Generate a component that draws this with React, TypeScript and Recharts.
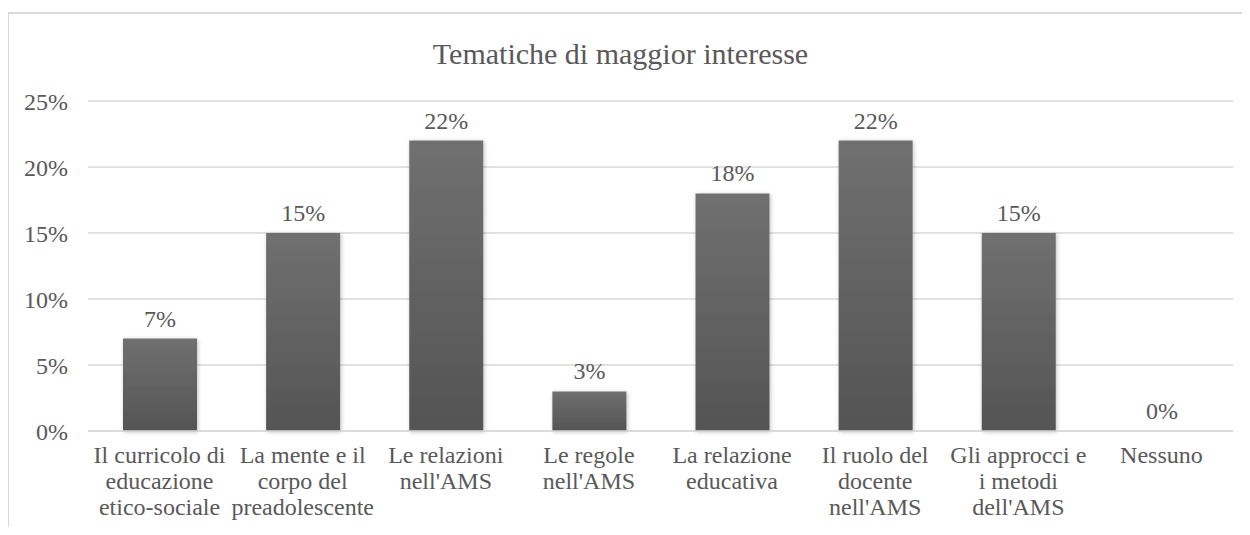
import { BarChart, Bar, XAxis, YAxis, CartesianGrid, LabelList } from "recharts";

const categories = [
  "Il curricolo di\neducazione\netico-sociale",
  "La mente e il\ncorpo del\npreadolescente",
  "Le relazioni\nnell'AMS",
  "Le regole\nnell'AMS",
  "La relazione\neducativa",
  "Il ruolo del\ndocente\nnell'AMS",
  "Gli approcci e\ni metodi\ndell'AMS",
  "Nessuno",
];
const percentages = [7, 15, 22, 3, 18, 22, 15, 0];
const yTicks = [0, 5, 10, 15, 20, 25];
const title = "Tematiche di maggior interesse";

const data = categories.map((name, i) => ({ name, value: percentages[i] }));

const FONT = "'Liberation Serif', 'Times New Roman', serif";
const TEXT = "#595959";

function CategoryTick(props: any) {
  const { x, y, payload } = props;
  const lines = String(payload.value).split("\n");
  return (
    <text x={x} y={y} textAnchor="middle" fill={TEXT} fontSize={24} fontFamily={FONT}>
      {lines.map((l, i) => (
        <tspan key={i} x={x} dy={i === 0 ? 24 : 26}>
          {l}
        </tspan>
      ))}
    </text>
  );
}

export default function App() {
  return (
    <div style={{ margin: -8, position: "relative", width: 1250, height: 535, background: "#fff", overflow: "hidden" }}>
      <div
        style={{
          position: "absolute",
          left: 0,
          width: 1241,
          top: 37,
          textAlign: "center",
          fontFamily: FONT,
          fontSize: 30,
          color: TEXT,
          zIndex: 1,
        }}
      >
        {title}
      </div>
      <div style={{ position: "absolute", left: 0, top: 0 }}>
        <BarChart
          width={1250}
          height={535}
          data={data}
          margin={{ top: 101, right: 17, bottom: 0, left: 0 }}
          barSize={74}
        >
          <defs>
            <linearGradient id="barFill" x1="0" y1="0" x2="0" y2="1">
              <stop offset="0%" stopColor="#707070" />
              <stop offset="100%" stopColor="#545454" />
            </linearGradient>
            <filter id="barShadow" x="-20%" y="-5%" width="140%" height="115%">
              <feDropShadow dx="1" dy="1" stdDeviation="2" floodColor="#000" floodOpacity="0.25" />
            </filter>
          </defs>
          <CartesianGrid vertical={false} stroke="#d9d9d9" strokeWidth={1.3} />
          <XAxis
            dataKey="name"
            interval={0}
            axisLine={{ stroke: "#d9d9d9", strokeWidth: 1.3 }}
            tickLine={false}
            tick={<CategoryTick />}
            height={104}
          />
          <YAxis
            width={88}
            domain={[0, 25]}
            ticks={yTicks}
            axisLine={false}
            tickLine={false}
            tickSize={0}
            tickMargin={20}
            tickFormatter={(v: number) => `${v}%`}
            tick={{ fill: TEXT, fontSize: 24, fontFamily: FONT }}
          />
          <Bar
            dataKey="value"
            fill="url(#barFill)"
            filter="url(#barShadow)"
            minPointSize={0.01}
            isAnimationActive={false}
          >
            <LabelList
              dataKey="value"
              position="top"
              offset={12}
              formatter={(v: any) => `${v}%`}
              style={{ fill: TEXT, fontSize: 24, fontFamily: FONT }}
            />
          </Bar>
        </BarChart>
      </div>
      <div
        style={{
          position: "absolute",
          left: 7,
          top: 12,
          width: 1300,
          height: 600,
          borderLeft: "2px solid #d9d9d9",
          borderTop: "2px solid #d9d9d9",
          boxSizing: "border-box",
          pointerEvents: "none",
          zIndex: 2,
        }}
      />
    </div>
  );
}
